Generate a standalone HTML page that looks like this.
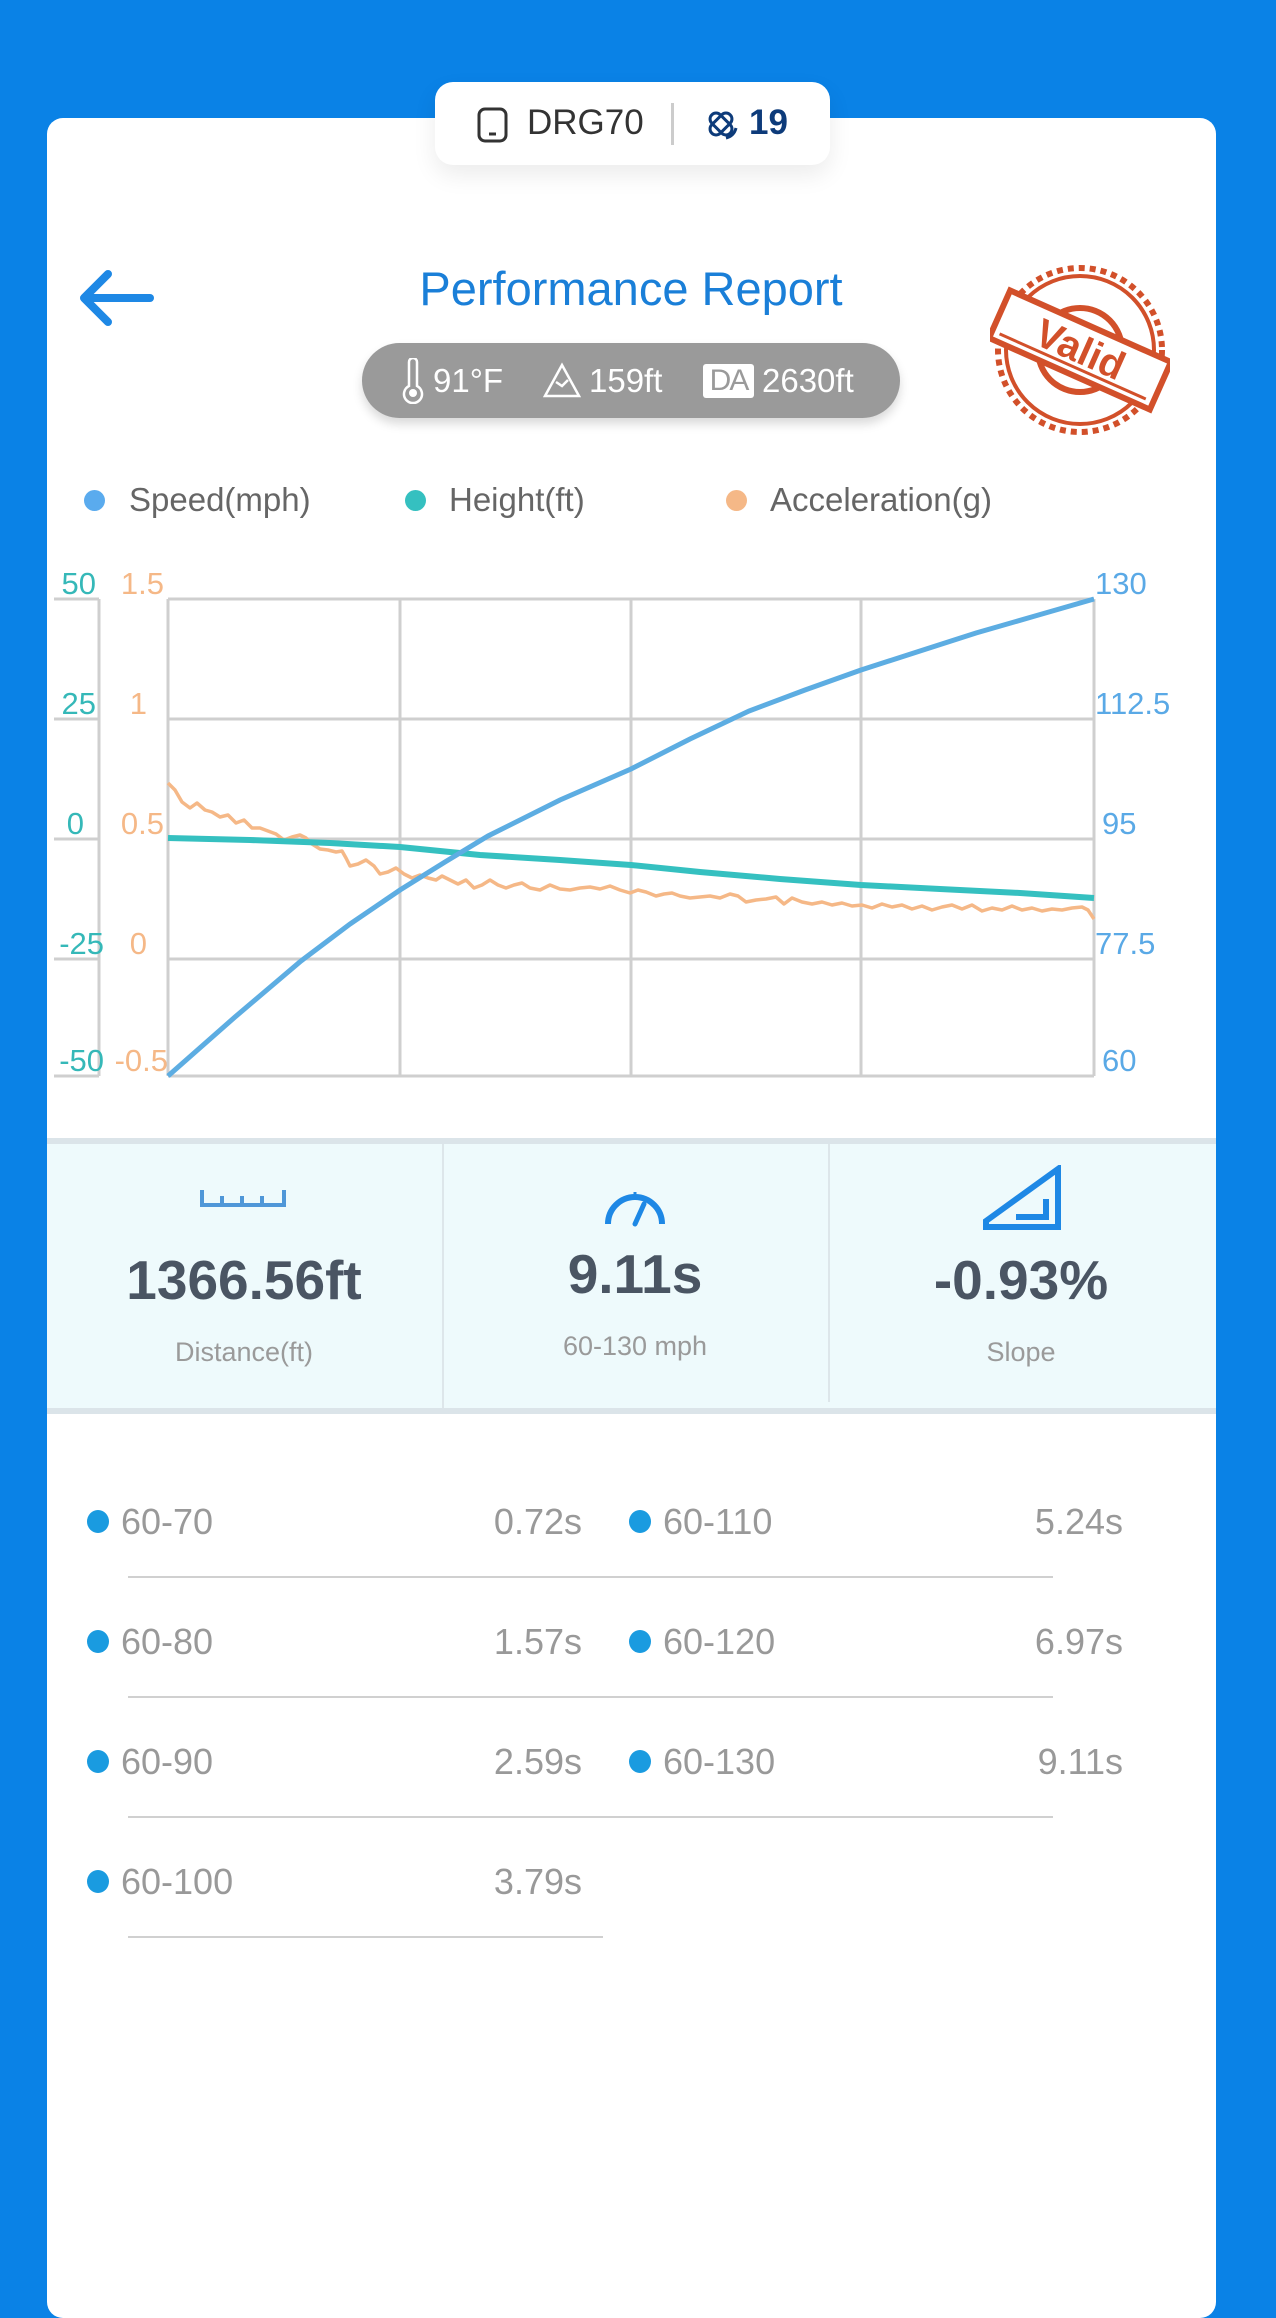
<!DOCTYPE html>
<html><head><meta charset="utf-8"><style>
*{margin:0;padding:0;box-sizing:border-box}
body{width:1276px;height:2293px;background:#0a82e6;position:relative;overflow:hidden;font-family:"Liberation Sans",Arial,sans-serif}
.a{position:absolute;white-space:nowrap}
.card{position:absolute;left:47px;top:118px;width:1169px;height:2200px;background:#fff;border-radius:16px}
.pill{position:absolute;left:435px;top:82px;width:395px;height:83px;background:#fff;border-radius:18px;box-shadow:0 10px 24px rgba(0,0,0,0.08)}
.lg{font-size:33px;color:#666}
.dot{position:absolute;border-radius:50%}
.val{font-size:55px;font-weight:bold;color:#4a5563;text-align:center;width:380px}
.lab{font-size:27px;color:#9a9a9a;text-align:center;width:380px}
.li{font-size:36px;color:#999}
.ld{width:22px;height:23px;background:#1a9be0;border-radius:50%}
</style></head><body>
<div class="card"></div>
<div class="pill"></div>
<svg class="a" style="left:477px;top:107px" width="32" height="36"><rect x="2" y="2" width="27" height="32" rx="6" fill="none" stroke="#333" stroke-width="3"/><line x1="12" y1="27" x2="19" y2="27" stroke="#333" stroke-width="3"/></svg>
<div class="a" style="left:527px;top:103px;font-size:35px;color:#333">DRG70</div>
<div class="a" style="left:671px;top:103px;width:3px;height:42px;background:#ccc"></div>
<svg class="a" style="left:704px;top:108px" width="36" height="36"><g fill="none" stroke="#0d3b7a" stroke-width="3"><rect x="4" y="10" width="26" height="12" rx="6" transform="rotate(45 17 16)"/><rect x="4" y="10" width="26" height="12" rx="6" transform="rotate(-45 17 16)"/><path d="M22 30 q8 -2 10 -10"/></g></svg>
<div class="a" style="left:749px;top:103px;font-size:35px;font-weight:bold;color:#0d3b7a">19</div>

<svg class="a" style="left:78px;top:268px" width="76" height="60"><g fill="none" stroke="#1e88e5" stroke-width="8" stroke-linecap="round" stroke-linejoin="round"><path d="M72 30 H8"/><path d="M30 6 L6 30 L30 54"/></g></svg>
<div class="a" style="left:0;width:1262px;text-align:center;top:261px;font-size:47px;color:#1a7fd8">Performance Report</div>

<div class="a" style="left:362px;top:343px;width:538px;height:75px;background:#9a9a9a;border-radius:38px;box-shadow:0 6px 10px rgba(0,0,0,0.15)"></div>
<svg class="a" style="left:402px;top:358px" width="22" height="46"><path d="M7 4 a4 4 0 0 1 8 0 v24 a9 9 0 1 1 -8 0z" fill="none" stroke="#fff" stroke-width="2.5"/><circle cx="11" cy="35" r="4" fill="#fff"/></svg>
<div class="a" style="left:433px;top:362px;font-size:33px;color:#fff">91°F</div>
<svg class="a" style="left:543px;top:362px" width="38" height="36"><path d="M19 3 L36 34 H2 Z M13 20 L19 24 L25 18" fill="none" stroke="#fff" stroke-width="2.5"/></svg>
<div class="a" style="left:589px;top:362px;font-size:33px;color:#fff">159ft</div>
<div class="a" style="left:703px;top:364px;width:51px;height:34px;background:#fff;border-radius:3px;color:#9a9a9a;font-size:30px;line-height:34px;text-align:center;letter-spacing:-2px">DA</div>
<div class="a" style="left:762px;top:362px;font-size:33px;color:#fff">2630ft</div>

<svg class="a" style="left:990px;top:262px" width="180" height="180"><g transform="translate(90,88)" fill="none" stroke="#d2502a"><circle r="82" stroke-width="6" stroke-dasharray="6 5"/><circle r="74" stroke-width="4"/><circle r="42" stroke-width="6"/><g transform="rotate(24)"><rect x="-88" y="-26" width="176" height="52" fill="#fff" stroke-width="6"/><line x1="-80" y1="18" x2="80" y2="18" stroke-width="3"/><text x="0" y="13" text-anchor="middle" fill="#d2502a" stroke="none" font-family="Liberation Sans" font-weight="bold" font-size="40">Valid</text></g></g></svg>

<div class="dot" style="left:84px;top:490px;width:21px;height:21px;background:#5aabee"></div>
<div class="a lg" style="left:129px;top:481px">Speed(mph)</div>
<div class="dot" style="left:405px;top:490px;width:21px;height:21px;background:#35c0c0"></div>
<div class="a lg" style="left:449px;top:481px">Height(ft)</div>
<div class="dot" style="left:726px;top:490px;width:21px;height:21px;background:#f5b887"></div>
<div class="a lg" style="left:770px;top:481px">Acceleration(g)</div>

<svg class="a" style="left:0;top:540px" width="1276" height="580" viewBox="0 540 1276 580" font-family="Liberation Sans" font-size="31">
<g stroke="#cfcfcf" stroke-width="3" fill="none">
<line x1="168" y1="599" x2="1094" y2="599"/><line x1="168" y1="719" x2="1094" y2="719"/><line x1="168" y1="839" x2="1094" y2="839"/><line x1="168" y1="959" x2="1094" y2="959"/><line x1="168" y1="1076" x2="1094" y2="1076"/>
<line x1="168" y1="599" x2="168" y2="1076"/><line x1="400" y1="599" x2="400" y2="1076"/><line x1="631" y1="599" x2="631" y2="1076"/><line x1="861" y1="599" x2="861" y2="1076"/><line x1="1094" y1="599" x2="1094" y2="1076"/>
<line x1="99" y1="599" x2="99" y2="1076"/>
<line x1="54" y1="599" x2="99" y2="599"/><line x1="54" y1="719" x2="99" y2="719"/><line x1="54" y1="839" x2="99" y2="839"/><line x1="54" y1="959" x2="99" y2="959"/><line x1="54" y1="1076" x2="99" y2="1076"/>
</g>
<g fill="#35b8b8" text-anchor="end"><text x="96" y="594">50</text><text x="96" y="714">25</text><text x="84" y="834">0</text><text x="104" y="954">-25</text><text x="104" y="1071">-50</text></g>
<g fill="#f5b887" text-anchor="end"><text x="164" y="594">1.5</text><text x="147" y="714">1</text><text x="164" y="834">0.5</text><text x="147" y="954">0</text><text x="168" y="1071">-0.5</text></g>
<g fill="#5aa9e6"><text x="1095" y="594">130</text><text x="1095" y="714">112.5</text><text x="1102" y="834">95</text><text x="1095" y="954">77.5</text><text x="1102" y="1071">60</text></g>
<polyline fill="none" stroke="#f5b887" stroke-width="3.5" stroke-linejoin="round" points="168,783 175,790 182,802 190,808 197,803 205,810 212,812 220,817 228,815 236,823 244,820 252,828 260,828 268,831 276,834 284,840 292,837 300,835 306,838 312,844 320,849 328,850 336,852 342,851 346,858 350,866 358,864 366,860 374,866 380,874 388,872 396,868 404,874 412,878 420,875 428,878 436,880 442,876 450,880 458,884 466,880 474,888 482,885 490,880 498,885 506,888 514,885 522,883 530,888 540,890 550,885 560,889 570,890 580,888 590,887 600,889 610,886 620,890 630,893 638,890 646,892 656,896 664,894 672,893 680,896 690,898 700,897 710,896 720,898 730,894 738,896 746,902 756,900 766,899 776,897 784,904 792,898 802,902 812,904 822,902 832,905 842,903 852,906 862,905 872,908 882,904 892,907 902,905 912,909 922,906 932,910 942,907 952,905 962,909 972,905 982,911 992,908 1002,910 1012,906 1022,910 1032,908 1042,911 1052,909 1062,910 1072,908 1082,907 1088,910 1094,919"/>
<polyline fill="none" stroke="#35c0c0" stroke-width="6" points="168,838 250,840 330,843 400,847 480,855 560,860 631,865 700,872 780,879 861,885 940,889 1020,893 1094,898"/>
<polyline fill="none" stroke="#5dade2" stroke-width="5" points="168,1076 235,1017 301,961 350,924 400,890 445,862 488,836 560,800 631,769 690,739 749,711 805,690 861,670 920,651 976,633 1035,616 1094,599"/>
</svg>

<div class="a" style="left:47px;top:1138px;width:1169px;height:276px;background:#eefafc;border-top:6px solid #dbe4e9;border-bottom:6px solid #dbe4e9"></div>
<div class="a" style="left:442px;top:1144px;width:2px;height:264px;background:#dde6ea"></div>
<div class="a" style="left:828px;top:1144px;width:2px;height:258px;background:#dde6ea"></div>
<svg class="a" style="left:200px;top:1188px" width="86" height="20"><path d="M2 2 V17 H84 V2 M22 8 V17 M42 8 V17 M62 8 V17" fill="none" stroke="#4f97d8" stroke-width="4"/></svg>
<svg class="a" style="left:600px;top:1178px" width="70" height="50"><path d="M8 46 A27 27 0 1 1 62 46" fill="none" stroke="#1e88e5" stroke-width="6"/><path d="M35 46 L44 26" stroke="#1e88e5" stroke-width="5" stroke-linecap="round"/><g stroke="#1e88e5" stroke-width="3"><line x1="35" y1="14" x2="35" y2="20"/><line x1="15" y1="24" x2="19" y2="28"/><line x1="55" y1="24" x2="51" y2="28"/></g></svg>
<svg class="a" style="left:982px;top:1165px" width="80" height="66"><path d="M4 56 L76 4 V62 H4 Z M34 52 H64 V34" fill="none" stroke="#1e88e5" stroke-width="6"/></svg>
<div class="a val" style="left:54px;top:1248px">1366.56ft</div>
<div class="a val" style="left:445px;top:1242px">9.11s</div>
<div class="a val" style="left:831px;top:1248px">-0.93%</div>
<div class="a lab" style="left:54px;top:1337px">Distance(ft)</div>
<div class="a lab" style="left:445px;top:1331px">60-130 mph</div>
<div class="a lab" style="left:831px;top:1337px">Slope</div>

<div class="a" style="left:128px;top:1576px;width:925px;height:2px;background:#d0d0d0"></div>
<div class="a" style="left:128px;top:1696px;width:925px;height:2px;background:#d0d0d0"></div>
<div class="a" style="left:128px;top:1816px;width:925px;height:2px;background:#d0d0d0"></div>
<div class="a" style="left:128px;top:1936px;width:475px;height:2px;background:#d0d0d0"></div>

<div class="a ld" style="left:87px;top:1510px"></div><div class="a li" style="left:121px;top:1501px">60-70</div><div class="a li" style="left:382px;width:200px;text-align:right;top:1501px">0.72s</div>
<div class="a ld" style="left:629px;top:1510px"></div><div class="a li" style="left:663px;top:1501px">60-110</div><div class="a li" style="left:923px;width:200px;text-align:right;top:1501px">5.24s</div>
<div class="a ld" style="left:87px;top:1630px"></div><div class="a li" style="left:121px;top:1621px">60-80</div><div class="a li" style="left:382px;width:200px;text-align:right;top:1621px">1.57s</div>
<div class="a ld" style="left:629px;top:1630px"></div><div class="a li" style="left:663px;top:1621px">60-120</div><div class="a li" style="left:923px;width:200px;text-align:right;top:1621px">6.97s</div>
<div class="a ld" style="left:87px;top:1750px"></div><div class="a li" style="left:121px;top:1741px">60-90</div><div class="a li" style="left:382px;width:200px;text-align:right;top:1741px">2.59s</div>
<div class="a ld" style="left:629px;top:1750px"></div><div class="a li" style="left:663px;top:1741px">60-130</div><div class="a li" style="left:923px;width:200px;text-align:right;top:1741px">9.11s</div>
<div class="a ld" style="left:87px;top:1870px"></div><div class="a li" style="left:121px;top:1861px">60-100</div><div class="a li" style="left:382px;width:200px;text-align:right;top:1861px">3.79s</div>
</body></html>
